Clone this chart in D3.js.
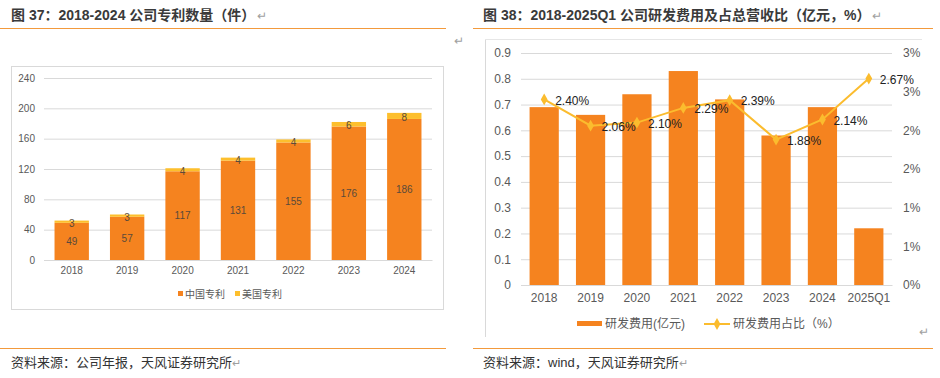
<!DOCTYPE html>
<html><head><meta charset="utf-8">
<script src="https://cdn.jsdelivr.net/npm/d3@7"></script>
<style>
html,body{margin:0;padding:0;background:#fff;}
svg{display:block;}
text{font-family:"Liberation Sans",Arial,"Noto Sans CJK SC",sans-serif;}
.cjk{font-family:"Liberation Sans","Noto Sans CJK SC",sans-serif;}
</style></head>
<body>
<script>
// ---------- data ----------
const patentYears = ["2018","2019","2020","2021","2022","2023","2024"];
const cnPatents = [49,57,117,131,155,176,186];
const usPatents = [3,3,4,4,4,6,8];
const patentTicks = [0,40,80,120,160,200,240];

const rdCats = ["2018","2019","2020","2021","2022","2023","2024","2025Q1"];
const rdExpense = [0.69,0.66,0.74,0.83,0.72,0.58,0.69,0.22];
const rdRatio = [2.40,2.06,2.10,2.29,2.39,1.88,2.14,2.67];
const leftTicks = [0,0.1,0.2,0.3,0.4,0.5,0.6,0.7,0.8,0.9];
const rightTicks = [0,0.5,1,1.5,2,2.5,3];

const ORANGE = "#F5831F", YELLOW = "#FDBF2D", LINEC = "#FBBC2E";
const GRID = "#D9D9D9", AX = "#595959";

const svg = d3.select("body").append("svg").attr("width",940).attr("height",378);

// ---------- headers / footers ----------
function header(x, lineX1, lineX2, title, source){
  svg.append("text").attr("class","cjk").attr("x",x).attr("y",15).attr("dy","0.35em")
    .attr("font-size",14).attr("font-weight","bold").attr("fill","#3A3A3A")
    .text(title).append("tspan").attr("font-weight","normal").attr("fill","#A0A0A0").attr("font-size",12).attr("dx",2).text("↵");
  svg.append("line").attr("x1",lineX1).attr("x2",lineX2).attr("y1",28.5).attr("y2",28.5)
    .attr("stroke","#F39A3C").attr("stroke-width",1.2);
  svg.append("line").attr("x1",lineX1).attr("x2",lineX2).attr("y1",348.5).attr("y2",348.5)
    .attr("stroke","#F39A3C").attr("stroke-width",1.2);
  svg.append("text").attr("class","cjk").attr("x",x).attr("y",362).attr("dy","0.35em")
    .attr("font-size",13).attr("fill","#333")
    .text(source).append("tspan").attr("fill","#A0A0A0").attr("font-size",11).text("↵");
}
header(11, 0, 446, "图 37：2018-2024 公司专利数量（件）", "资料来源：公司年报，天风证券研究所");
header(483, 473, 933, "图 38：2018-2025Q1 公司研发费用及占总营收比（亿元，%）", "资料来源：wind，天风证券研究所");
svg.append("text").attr("x",459).attr("y",41).attr("dy","0.35em").attr("text-anchor","middle")
  .attr("font-size",12).attr("fill","#A0A0A0").attr("font-family","DejaVu Sans").text("↵");
svg.append("text").attr("x",924).attr("y",332).attr("dy","0.35em").attr("text-anchor","middle")
  .attr("font-size",12).attr("fill","#A0A0A0").attr("font-family","DejaVu Sans").text("↵");

// ---------- left chart ----------
{
  const g = svg.append("g");
  g.append("rect").attr("x",11.5).attr("y",66.5).attr("width",432).attr("height",243)
    .attr("fill","none").attr("stroke",GRID);
  const x = d3.scaleBand().domain(patentYears).range([44,432]).paddingInner(0.38).paddingOuter(0.19);
  const y = d3.scaleLinear().domain([0,240]).range([260,78]);
  const yAxis = g.append("g").attr("transform","translate(44,0)")
    .call(d3.axisLeft(y).tickValues(patentTicks).tickSize(-388).tickPadding(9));
  yAxis.select(".domain").remove();
  yAxis.selectAll(".tick line").attr("stroke",GRID).attr("stroke-width",1);
  yAxis.selectAll(".tick text").attr("fill",AX).attr("font-size",10);
  const xAxis = g.append("g").attr("transform","translate(0,260)")
    .call(d3.axisBottom(x).tickSize(0).tickPadding(7));
  xAxis.select(".domain").attr("stroke",GRID);
  xAxis.selectAll(".tick text").attr("fill",AX).attr("font-size",10);
  patentYears.forEach((yr,i)=>{
    const cn = cnPatents[i], us = usPatents[i];
    g.append("rect").attr("x",x(yr)).attr("width",x.bandwidth()).attr("y",y(cn)).attr("height",y(0)-y(cn)).attr("fill",ORANGE);
    g.append("rect").attr("x",x(yr)).attr("width",x.bandwidth()).attr("y",y(cn+us)).attr("height",y(cn)-y(cn+us)).attr("fill",YELLOW);
    g.append("text").attr("x",x(yr)+x.bandwidth()/2).attr("y",(y(0)+y(cn))/2).attr("dy","0.35em")
      .attr("text-anchor","middle").attr("font-size",10).attr("fill","#5A4A3A").text(cn);
    g.append("text").attr("x",x(yr)+x.bandwidth()/2).attr("y",(y(cn)+y(cn+us))/2+1.5).attr("dy","0.35em")
      .attr("text-anchor","middle").attr("font-size",10).attr("fill","#5A4A3A").text(us);
  });
  const leg = [{n:"中国专利",c:ORANGE,x:178},{n:"美国专利",c:YELLOW,x:235}];
  leg.forEach(l=>{
    g.append("rect").attr("x",l.x).attr("y",291).attr("width",5).attr("height",5).attr("fill",l.c);
    g.append("text").attr("class","cjk").attr("x",l.x+7).attr("y",294).attr("dy","0.35em")
      .attr("font-size",10).attr("fill",AX).text(l.n);
  });
}

// ---------- right chart ----------
{
  const g = svg.append("g");
  g.append("line").attr("x1",485.5).attr("x2",485.5).attr("y1",39).attr("y2",337).attr("stroke",GRID);
  g.append("line").attr("x1",485).attr("x2",922).attr("y1",39.5).attr("y2",39.5).attr("stroke","#E6E6E6");
  const x = d3.scaleBand().domain(rdCats).range([521,892]).paddingInner(0.37).paddingOuter(0.185);
  const yL = d3.scaleLinear().domain([0,0.9]).range([285,53]);
  const yR = d3.scaleLinear().domain([0,3]).range([285,53]);
  const yAxis = g.append("g").attr("transform","translate(521,0)")
    .call(d3.axisLeft(yL).tickValues(leftTicks).tickSize(-371).tickPadding(10).tickFormat(d=>d===0?"0":d3.format(".1f")(d)));
  yAxis.select(".domain").remove();
  yAxis.selectAll(".tick line").attr("stroke",GRID).attr("stroke-width",1);
  yAxis.selectAll(".tick text").attr("fill",AX).attr("font-size",12);
  const yAxisR = g.append("g").attr("transform","translate(892,0)")
    .call(d3.axisRight(yR).tickValues(rightTicks).tickSize(0).tickPadding(11).tickFormat(d=>Math.round(d+1e-9)+"%"));
  yAxisR.select(".domain").remove();
  yAxisR.selectAll(".tick text").attr("fill",AX).attr("font-size",12);
  const xAxis = g.append("g").attr("transform","translate(0,285)")
    .call(d3.axisBottom(x).tickSize(0).tickPadding(8));
  xAxis.select(".domain").attr("stroke",GRID);
  xAxis.selectAll(".tick text").attr("fill",AX).attr("font-size",12);

  g.selectAll(".bar").data(rdCats).enter().append("rect")
    .attr("x",d=>x(d)).attr("width",x.bandwidth())
    .attr("y",(d,i)=>yL(rdExpense[i])).attr("height",(d,i)=>yL(0)-yL(rdExpense[i]))
    .attr("fill",ORANGE);
  const cx = d=>x(d)+x.bandwidth()/2;
  const line = d3.line().x((d,i)=>cx(rdCats[i])).y(d=>yR(d));
  g.append("path").datum(rdRatio).attr("d",line).attr("fill","none").attr("stroke",LINEC).attr("stroke-width",2);
  const diamond = d3.symbol().type(d3.symbolDiamond).size(40);
  rdRatio.forEach((v,i)=>{
    g.append("path").attr("d",diamond).attr("transform",`translate(${cx(rdCats[i])},${yR(v)})`).attr("fill",LINEC);
    g.append("text").attr("x",cx(rdCats[i])+11).attr("y",yR(v)+1).attr("dy","0.35em")
      .attr("font-size",12).attr("fill","#222").text(v.toFixed(2)+"%");
  });
  // legend
  g.append("rect").attr("x",577).attr("y",321).attr("width",25).attr("height",5).attr("fill",ORANGE);
  g.append("text").attr("class","cjk").attr("x",605).attr("y",324).attr("dy","0.35em")
    .attr("font-size",12).attr("fill",AX).text("研发费用(亿元)");
  g.append("line").attr("x1",704).attr("x2",730).attr("y1",324).attr("y2",324).attr("stroke",LINEC).attr("stroke-width",2);
  g.append("path").attr("d",diamond).attr("transform","translate(717,324)").attr("fill",LINEC);
  g.append("text").attr("class","cjk").attr("x",733).attr("y",324).attr("dy","0.35em")
    .attr("font-size",12).attr("fill",AX).text("研发费用占比（%）");
}
</script>
</body></html>
